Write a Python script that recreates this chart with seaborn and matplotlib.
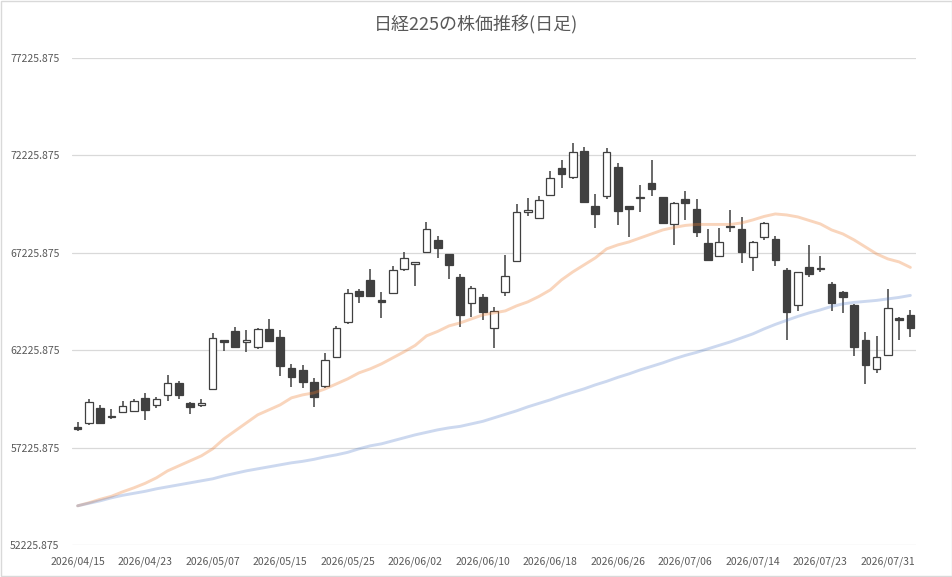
import pandas as pd
import numpy as np
import seaborn as sns
import matplotlib
matplotlib.use("Agg")
import matplotlib.pyplot as plt
from matplotlib.patches import Rectangle

# 営業日（祝日を除く）
holidays = ["2026-04-29", "2026-05-04", "2026-05-05", "2026-05-06", "2026-07-20"]
dates = pd.bdate_range("2026-04-15", "2026-08-04", freq="C", holidays=holidays)

open_ = [58270, 58460, 59250, 58840, 59040, 59090, 59760, 59400, 59910, 60530,
         59500, 59400, 60250, 62730, 63200, 62630, 62400, 63300, 62890, 61300,
         61200, 60580, 60380, 61890, 63660, 65250, 65810, 64790, 65140, 66380,
         66630, 67250, 67860, 67140, 65960, 64630, 64940, 63350, 65200, 66790,
         69300, 68990, 70170, 71550, 71090, 72430, 69610, 70120, 71610, 69610,
         70020, 70790, 70070, 68680, 69960, 69450, 67710, 67040, 68580, 68430,
         66990, 68020, 67910, 66320, 64530, 66480, 66430, 65610, 65200, 64530,
         62730, 61250, 61960, 63860, 64020]
high = [58560, 59710, 59400, 59200, 59610, 59740, 60020, 59810, 60940, 60650,
        59550, 59710, 63090, 62760, 63400, 63260, 63350, 63810, 63250, 61500,
        61450, 60790, 62070, 63450, 65380, 65350, 66400, 65200, 66530, 67250,
        66760, 68790, 68070, 67170, 66120, 65500, 65090, 64430, 67090, 69710,
        70020, 70120, 71400, 71960, 72840, 72660, 70220, 72580, 71810, 69630,
        70680, 71960, 70090, 69810, 70380, 69960, 68430, 68480, 69400, 69040,
        67810, 68790, 68070, 66430, 66250, 67610, 67040, 65710, 65250, 64580,
        63140, 62940, 65350, 63910, 64270]
low = [58050, 58390, 58440, 58680, 59010, 59040, 58630, 59230, 59610, 59710,
       58940, 59300, 60220, 62170, 62370, 62150, 62300, 62650, 60920, 60350,
       60270, 59300, 60270, 61860, 63550, 64630, 64960, 63860, 65100, 66270,
       65530, 67220, 66940, 65860, 63400, 63910, 63760, 62320, 64990, 66760,
       69090, 68960, 70120, 70530, 70990, 69780, 68480, 69960, 68630, 68020,
       69300, 70120, 68680, 67610, 68890, 68020, 66810, 67010, 68270, 66680,
       66270, 67860, 66530, 62730, 64220, 65960, 66220, 64220, 64120, 61910,
       60480, 61040, 61940, 62730, 62890]
close = [58170, 59550, 58480, 58770, 59350, 59610, 59140, 59710, 60530, 59910,
         59300, 59500, 62820, 62660, 62400, 62730, 63300, 62680, 61400, 60840,
         60580, 59810, 61710, 63350, 65140, 64990, 64990, 64680, 66320, 66940,
         66730, 68430, 67450, 66580, 64020, 65400, 64170, 64220, 66020, 69300,
         69400, 69910, 71040, 71250, 72370, 69810, 69200, 72370, 69350, 69450,
         70070, 70480, 68730, 69760, 69760, 68270, 66840, 67760, 68530, 67250,
         67760, 68730, 66840, 64170, 66220, 66120, 66380, 64630, 64940, 62380,
         61450, 61860, 64380, 63760, 63350]

# 移動平均（短期・長期）
ma_short = [54237, 54390, 54570, 54724, 54954, 55159, 55390, 55672, 56031, 56288,
            56544, 56801, 57160, 57672, 58083, 58493, 58903, 59159, 59416, 59775,
            59929, 60031, 60236, 60493, 60749, 61057, 61262, 61518, 61826, 62134,
            62467, 62954, 63185, 63467, 63621, 63826, 64031, 64134, 64236, 64493,
            64698, 64980, 65313, 65826, 66236, 66595, 66954, 67416, 67621, 67775,
            67980, 68185, 68390, 68518, 68621, 68672, 68672, 68672, 68672, 68749,
            68903, 69082, 69210, 69159, 69057, 68877, 68698, 68390, 68185, 67877,
            67518, 67159, 66903, 66749, 66467]
ma_long = [54237, 54365, 54493, 54647, 54775, 54878, 54980, 55108, 55211, 55313,
           55416, 55519, 55621, 55775, 55903, 56031, 56134, 56236, 56339, 56442,
           56519, 56621, 56749, 56852, 56980, 57160, 57313, 57416, 57570, 57724,
           57877, 58006, 58134, 58236, 58313, 58441, 58570, 58749, 58929, 59108,
           59313, 59493, 59672, 59877, 60057, 60236, 60441, 60621, 60826, 61006,
           61211, 61390, 61570, 61775, 61954, 62108, 62288, 62467, 62646, 62852,
           63057, 63313, 63544, 63749, 63954, 64134, 64287, 64467, 64595, 64672,
           64723, 64775, 64852, 64928, 65031]

y_ticks = [52225.875, 57225.875, 62225.875, 67225.875, 72225.875, 77225.875]

df = pd.DataFrame({"date": dates, "open": open_, "high": high, "low": low,
                   "close": close, "ma_short": ma_short, "ma_long": ma_long})
df["pos"] = np.arange(len(df))

sns.set_theme(style="white")
plt.rcParams['font.family'] = ['Noto Sans CJK JP', 'DejaVu Sans']

fig = plt.figure(figsize=(9.53, 5.77), dpi=100)
ax = fig.add_axes([72 / 953, 1 - 545 / 577, 844 / 953, (545 - 57.7) / 577])

edge = "#404040"
up = df["close"] >= df["open"]
body_low = df[["open", "close"]].min(axis=1)
body_h = (df["close"] - df["open"]).abs()

# ヒゲ
ax.vlines(df["pos"], df["low"], df["high"], color=edge, lw=1.1, zorder=2)
# 実体
ax.bar(df["pos"], body_h, bottom=body_low, width=0.68,
       color=np.where(up, "white", edge), edgecolor=edge, linewidth=0.9, zorder=3)

# 移動平均線
sns.lineplot(data=df, x="pos", y="ma_short", ax=ax, color="#ED7D31",
             alpha=0.32, lw=2.1, zorder=4)
sns.lineplot(data=df, x="pos", y="ma_long", ax=ax, color="#4472C4",
             alpha=0.27, lw=2.1, zorder=4)

ax.set_xlim(-0.5, len(df) - 0.5)
ax.set_ylim(y_ticks[0], y_ticks[-1])
ax.set_yticks(y_ticks)
ax.set_yticklabels([f"{v:.3f}" for v in y_ticks])
tick_pos = df["pos"][::6]
ax.set_xticks(tick_pos)
ax.set_xticklabels(df["date"][::6].dt.strftime("%Y/%m/%d"))
ax.tick_params(axis="both", labelsize=7.5, colors="#595959", length=0)
ax.tick_params(axis="y", pad=9)
ax.tick_params(axis="x", pad=8)
ax.set_xlabel("")
ax.set_ylabel("")
ax.grid(axis="y", color="#D9D9D9", lw=0.9)
ax.set_axisbelow(True)
for s in ax.spines.values():
    s.set_visible(False)

fig.text(0.5, 1 - 25 / 577, "日経225の株価推移(日足)", ha="center", va="center",
         fontsize=13, color="#595959")
fig.patches.append(Rectangle((0.001, 0.001), 0.998, 0.998, transform=fig.transFigure,
                             fill=False, edgecolor="#D9D9D9", lw=1))

plt.savefig("out.png", dpi=100)
